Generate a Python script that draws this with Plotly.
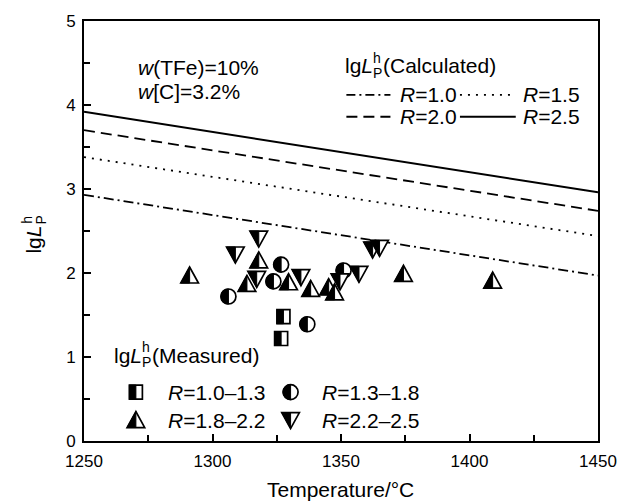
import plotly.graph_objects as go

# ---- calculated lgL_P^h lines (temperature endpoints) ----
temp_calc = [1250, 1450]
lgL_R10 = [2.93, 1.97]
lgL_R15 = [3.38, 2.44]
lgL_R20 = [3.70, 2.74]
lgL_R25 = [3.92, 2.96]

# ---- measured lgL_P^h by basicity range ----
temp_R10_13 = [1327.6, 1326.7]
lgL_R10_13 = [1.48, 1.22]

temp_R13_18 = [1306.2, 1326.7, 1323.7, 1336.9, 1351.0]
lgL_R13_18 = [1.72, 2.10, 1.90, 1.39, 2.03]

temp_R18_22 = [1291.1, 1318.0, 1313.4, 1329.6, 1338.2, 1345.2, 1347.5, 1374.3, 1409.0]
lgL_R18_22 = [1.97, 2.15, 1.87, 1.89, 1.81, 1.83, 1.77, 1.99, 1.91]

temp_R22_25 = [1318.0, 1308.9, 1317.2, 1334.4, 1349.6, 1357.0, 1362.3, 1365.0]
lgL_R22_25 = [2.41, 2.22, 1.93, 1.95, 1.90, 1.99, 2.28, 2.30]

x_ticks = [1250, 1300, 1350, 1400, 1450]
y_ticks = [0, 1, 2, 3, 4, 5]

FONT = "Liberation Sans, Arial, sans-serif"
W, H = 629, 503
ML, MR, MT, MB = 84, 20, 20, 62
PW, PH = W - ML - MR, H - MT - MB


def px(x):
    return (x - ML) / PW


def py(y):
    return (H - MB - y) / PH


# half-filled marker geometry (pixel offsets, y up)
def circle_paths(r):
    k = 0.5523 * r
    full = (f"M{r},0 C{r},{k} {k},{r} 0,{r} C{-k},{r} {-r},{k} {-r},0 "
            f"C{-r},{-k} {-k},{-r} 0,{-r} C{k},{-r} {r},{-k} {r},0 Z")
    half = f"M0,{r} C{-k},{r} {-r},{k} {-r},0 C{-r},{-k} {-k},{-r} 0,{-r} Z"
    return full, half


GEOM = {
    "square": ("M-6.5,-7 L6.5,-7 L6.5,7 L-6.5,7 Z", "M-6.5,-7 L0,-7 L0,7 L-6.5,7 Z"),
    "circle": circle_paths(7.5),
    "up": ("M0,8.5 L-8.8,-7.5 L8.8,-7.5 Z", "M0,8.5 L-8.8,-7.5 L0,-7.5 Z"),
    "down": ("M0,-8.5 L-8.8,7.5 L8.8,7.5 Z", "M0,-8.5 L-8.8,7.5 L0,7.5 Z"),
}


def marker_shapes(kind, xa, ya, xref="x", yref="y"):
    full, half = GEOM[kind]
    common = dict(type="path", xref=xref, yref=yref, xsizemode="pixel",
                  ysizemode="pixel", xanchor=xa, yanchor=ya, layer="above")
    return [
        dict(path=full, fillcolor="white", line=dict(color="black", width=1.7), **common),
        dict(path=half, fillcolor="black", line=dict(color="black", width=1), **common),
    ]


fig = go.Figure()

line_styles = [
    ("R=1.0", lgL_R10, "10px,4px,2px,4px", 1.8),
    ("R=1.5", lgL_R15, "2px,6px", 1.8),
    ("R=2.0", lgL_R20, "11px,6px", 1.8),
    ("R=2.5", lgL_R25, "solid", 2.0),
]
for name, ys, dash, w in line_styles:
    fig.add_trace(go.Scatter(x=temp_calc, y=ys, mode="lines", name=name,
                             line=dict(color="black", width=w, dash=dash),
                             showlegend=False))

shapes = []
measured = [
    ("square", temp_R10_13, lgL_R10_13, "R=1.0–1.3"),
    ("circle", temp_R13_18, lgL_R13_18, "R=1.3–1.8"),
    ("up", temp_R18_22, lgL_R18_22, "R=1.8–2.2"),
    ("down", temp_R22_25, lgL_R22_25, "R=2.2–2.5"),
]
for kind, xs, ys, name in measured:
    fig.add_trace(go.Scatter(x=xs, y=ys, mode="markers", name=name,
                             marker=dict(size=14, opacity=0), showlegend=False))
    for xv, yv in zip(xs, ys):
        shapes += marker_shapes(kind, xv, yv)

annotations = []


def text(x, y, s, size=21, anchor="left", angle=0):
    annotations.append(dict(x=px(x), y=py(y), xref="paper", yref="paper", text=s,
                            showarrow=False, xanchor=anchor, yanchor="middle",
                            textangle=angle,
                            font=dict(family=FONT, size=size, color="black")))


def lgL_label(x, y, tail, size=21):
    # "lg L" with stacked h (superscript) and P (subscript)
    text(x, y, "lg<i>L</i>", size)
    base_w = (0.222 + 0.556 + 0.556) * size
    small = round(size * 0.66)
    text(x + base_w + 0.5, y - 8, "h", small)
    text(x + base_w + 0.5, y + 7, "P", small)
    text(x + base_w + 0.5 + 0.68 * small, y, tail, size)


# composition note
text(137, 67, "<i>w</i>(TFe)=10%")
text(137, 91, "<i>w</i>[C]=3.2%")

# calculated legend
lgL_label(349, 65, "(Calculated)")
row1, row2 = 94, 116
legend_lines = [
    (352, 397, row1, "9px,4px,2px,4px", 1.8, 405, "<i>R</i>=1.0"),
    (468, 525, row1, "2px,6px", 1.8, 530, "<i>R</i>=1.5"),
    (352, 397, row2, "11px,6px", 1.8, 405, "<i>R</i>=2.0"),
    (468, 525, row2, "solid", 2.0, 530, "<i>R</i>=2.5"),
]
for x0, x1, yy, dash, w, tx, label in legend_lines:
    shapes.append(dict(type="line", xref="paper", yref="paper",
                       x0=px(x0), x1=px(x1), y0=py(yy), y1=py(yy),
                       line=dict(color="black", width=w, dash=dash)))
    text(tx, yy, label)

# measured legend
lgL_label(113, 355, "(Measured)")
legend_marks = [
    ("square", 137, 392, 168, "<i>R</i>=1.0–1.3"),
    ("circle", 295, 392, 325, "<i>R</i>=1.3–1.8"),
    ("up", 137, 420, 168, "<i>R</i>=1.8–2.2"),
    ("down", 295, 420, 325, "<i>R</i>=2.2–2.5"),
]
for kind, mx, my, tx, label in legend_marks:
    shapes += marker_shapes(kind, px(mx), py(my), xref="paper", yref="paper")
    text(tx, my, label)

# axis titles
text(346, 490, "Temperature/°C", size=21, anchor="center")
text(32, 239, "lg<i>L</i>", size=21, anchor="center", angle=-90)
text(25, 219, "h", size=14, anchor="center", angle=-90)
text(40, 219, "P", size=14, anchor="center", angle=-90)

axis_common = dict(showline=True, linewidth=2, linecolor="black", mirror=True,
                   ticks="inside", ticklen=7, tickwidth=1.5, tickcolor="black",
                   showgrid=False, zeroline=False,
                   tickfont=dict(family=FONT, size=17, color="black"))

fig.update_layout(
    width=W, height=H,
    margin=dict(l=ML, r=MR, t=MT, b=MB, pad=0),
    paper_bgcolor="white", plot_bgcolor="white",
    shapes=shapes, annotations=annotations,
    xaxis=dict(range=[1250, 1450], tickvals=x_ticks, ticklabelstandoff=4,
               minor=dict(ticks="inside", ticklen=6, tickwidth=1.5, dtick=25,
                          tickcolor="black"),
               **axis_common),
    yaxis=dict(range=[0, 5], tickvals=y_ticks, ticklabelstandoff=3,
               minor=dict(ticks="inside", ticklen=6, tickwidth=1.5, dtick=0.5,
                          tickcolor="black"),
               **axis_common),
)

fig.write_html("out.html")
